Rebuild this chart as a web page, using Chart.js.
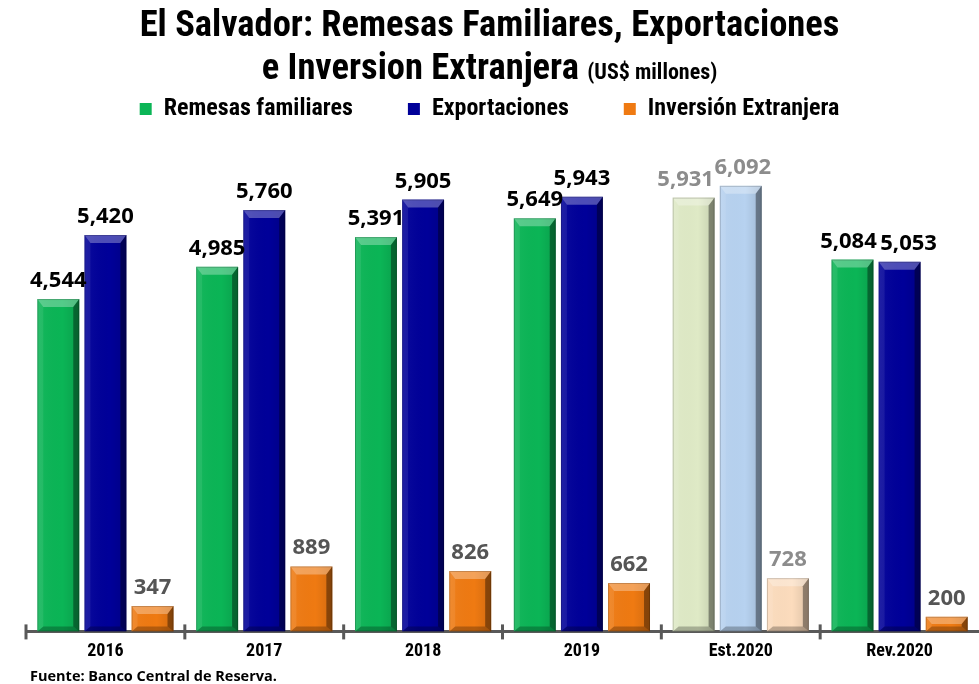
<!DOCTYPE html>
<html>
<head>
<meta charset="utf-8">
<script src="https://cdn.jsdelivr.net/npm/chart.js@4.4.1/dist/chart.umd.min.js"></script>
<style>
  html, body { margin: 0; padding: 0; background: #fff; overflow: hidden; }
  #wrap { position: relative; width: 979px; height: 684px; }
  canvas { position: absolute; left: 0; top: 0; }
  #title {
    position: absolute; left: 0; top: 2px; width: 979px; text-align: center;
    font-family: Roboto, sans-serif; font-stretch: condensed;
    font-weight: bold; font-size: 36.5px; line-height: 43px; color: #000;
  }
  #title small { font-size: 22px; }
  #source {
    position: absolute; left: 30px; top: 666px;
    font-family: "Open Sans", sans-serif; font-weight: bold; font-size: 14.5px; color: #000;
  }
</style>
</head>
<body>
<div id="wrap">
  <canvas id="chart" width="979" height="684"></canvas>
  <div id="title">El Salvador: Remesas Familiares, Exportaciones<br>e Inversion Extranjera <small>(US$ millones)</small></div>
  <div id="source">Fuente: Banco Central de Reserva.</div>
</div>
<script>
// Categories and series (US$ millones)
const categories = ['2016', '2017', '2018', '2019', 'Est.2020', 'Rev.2020'];
const remesas = [4544, 4985, 5391, 5649, 5931, 5084];
const exportaciones = [5420, 5760, 5905, 5943, 6092, 5053];
const inversion = [347, 889, 826, 662, 728, 200];

// Est.2020 bars are drawn in pale tones
const estIndex = 4;
function shade(base, pale) {
  return categories.map((c, i) => i === estIndex ? pale : base);
}

// sideways nudges for labels that would collide: [dataset, category, px]
const labelNudges = [[0, 4, -8], [1, 4, 2], [0, 5, -4], [1, 5, 9]];

const narrow = 'Roboto, sans-serif';

// bevelled look: light top facet, darker right and bottom facets
const bevelPlugin = {
  id: 'bevel',
  afterDatasetsDraw(chart) {
    const ctx = chart.ctx;
    chart.data.datasets.forEach((ds, di) => {
      chart.getDatasetMeta(di).data.forEach(bar => {
        const l = bar.x - bar.width / 2, r = bar.x + bar.width / 2;
        const t = bar.y, b = bar.base;
        const s = Math.min(6, (r - l) / 4);
        const tb = Math.min(8, (b - t) / 2);
        const bb = Math.min(5, (b - t) / 3);
        ctx.save();
        // soft shading towards the right edge
        const g = ctx.createLinearGradient(l, 0, r, 0);
        g.addColorStop(0, 'rgba(255,255,255,0.05)');
        g.addColorStop(0.6, 'rgba(0,0,0,0)');
        g.addColorStop(1, 'rgba(0,0,0,0.12)');
        ctx.fillStyle = g;
        ctx.fillRect(l, t, r - l, b - t);
        // top facet
        ctx.fillStyle = 'rgba(255,255,255,0.3)';
        ctx.beginPath();
        ctx.moveTo(l, t); ctx.lineTo(r, t); ctx.lineTo(r - s, t + tb); ctx.lineTo(l + s, t + tb);
        ctx.closePath(); ctx.fill();
        // left facet
        ctx.fillStyle = 'rgba(255,255,255,0.08)';
        ctx.beginPath();
        ctx.moveTo(l, t); ctx.lineTo(l + s, t + tb); ctx.lineTo(l + s, b - bb); ctx.lineTo(l, b);
        ctx.closePath(); ctx.fill();
        // right facet
        ctx.fillStyle = 'rgba(0,0,0,0.38)';
        ctx.beginPath();
        ctx.moveTo(r, t); ctx.lineTo(r - s, t + tb); ctx.lineTo(r - s, b - bb); ctx.lineTo(r, b);
        ctx.closePath(); ctx.fill();
        // bottom facet
        ctx.fillStyle = 'rgba(0,0,0,0.25)';
        ctx.beginPath();
        ctx.moveTo(l, b); ctx.lineTo(l + s, b - bb); ctx.lineTo(r - s, b - bb); ctx.lineTo(r, b);
        ctx.closePath(); ctx.fill();
        // thin outline
        ctx.strokeStyle = 'rgba(0,0,0,0.18)';
        ctx.lineWidth = 1;
        ctx.strokeRect(l + 0.5, t + 0.5, r - l - 1, b - t - 1);
        ctx.restore();
      });
    });
  }
};

// value labels above each bar
const valueLabels = {
  id: 'valueLabels',
  afterDatasetsDraw(chart) {
    const ctx = chart.ctx;
    ctx.save();
    ctx.font = 'bold 22px "Open Sans", sans-serif';
    ctx.textAlign = 'center';
    ctx.textBaseline = 'alphabetic';
    chart.data.datasets.forEach((ds, di) => {
      chart.getDatasetMeta(di).data.forEach((bar, i) => {
        const nudge = labelNudges.find(n => n[0] === di && n[1] === i);
        ctx.fillStyle = ds.labelColors[i];
        ctx.fillText(ds.data[i].toLocaleString('en-US'), bar.x + (nudge ? nudge[2] : 0), bar.y - 12);
      });
    });
    ctx.restore();
  }
};

// tick marks crossing the axis at category boundaries
const axisTicks = {
  id: 'axisTicks',
  afterDraw(chart) {
    const x = chart.scales.x;
    const ctx = chart.ctx;
    const y = x.top;
    const xs = [x.left];
    for (let i = 1; i < categories.length; i++) {
      xs.push((x.getPixelForValue(i - 1) + x.getPixelForValue(i)) / 2);
    }
    ctx.save();
    ctx.strokeStyle = '#595959';
    ctx.lineWidth = 3;
    xs.forEach(px => {
      ctx.beginPath();
      ctx.moveTo(px, y - 7);
      ctx.lineTo(px, y + 8);
      ctx.stroke();
    });
    ctx.restore();
  }
};

// fixed legend block height so the plot starts below it,
// and centre the legend on the whole canvas rather than the padded area
const legendHeight = {
  id: 'legendHeight',
  beforeInit(chart) {
    const fit = chart.legend.fit;
    chart.legend.fit = function () {
      fit.call(this);
      this.height = 114;
    };
  },
  afterLayout(chart) {
    chart.legend.left = 0;
    chart.legend.right = chart.width;
  }
};

new Chart(document.getElementById('chart'), {
  type: 'bar',
  data: {
    labels: categories,
    datasets: [
      {
        label: 'Remesas familiares',
        data: remesas,
        backgroundColor: shade('#0bb556', '#dfeac6'),
        legendColor: '#0bb556',
        labelColors: shade('#000', '#8c8c8c')
      },
      {
        label: 'Exportaciones',
        data: exportaciones,
        backgroundColor: shade('#000099', '#b7d2f0'),
        legendColor: '#000099',
        labelColors: shade('#000', '#8c8c8c')
      },
      {
        label: 'Inversión Extranjera',
        data: inversion,
        backgroundColor: shade('#ef7a12', '#fcdcbd'),
        legendColor: '#ef7a12',
        labelColors: shade('#555', '#8c8c8c')
      }
    ]
  },
  options: {
    responsive: false,
    animation: false,
    layout: { padding: { top: 42, left: 26, right: 0, bottom: 13 } },
    datasets: {
      bar: { categoryPercentage: 0.89, barPercentage: 0.89, borderWidth: 0 }
    },
    scales: {
      x: {
        offset: true,
        grid: { display: false, drawTicks: false },
        border: { display: true, color: '#595959', width: 3 },
        ticks: {
          color: '#000',
          padding: 9,
          font: { family: narrow, weight: 'bold condensed', size: 18 }
        }
      },
      y: { display: false, min: 0, max: 6500 }
    },
    plugins: {
      tooltip: { enabled: false },
      legend: {
        position: 'top',
        labels: {
          boxWidth: 12,
          boxHeight: 12,
          padding: 55,
          color: '#000',
          font: { family: narrow, weight: 'bold condensed', size: 24 },
          generateLabels(chart) {
            return chart.data.datasets.map((ds, i) => ({
              text: ds.label,
              fillStyle: ds.legendColor,
              strokeStyle: ds.legendColor,
              lineWidth: 0,
              datasetIndex: i
            }));
          }
        }
      }
    }
  },
  plugins: [legendHeight, bevelPlugin, valueLabels, axisTicks]
});
</script>
</body>
</html>
